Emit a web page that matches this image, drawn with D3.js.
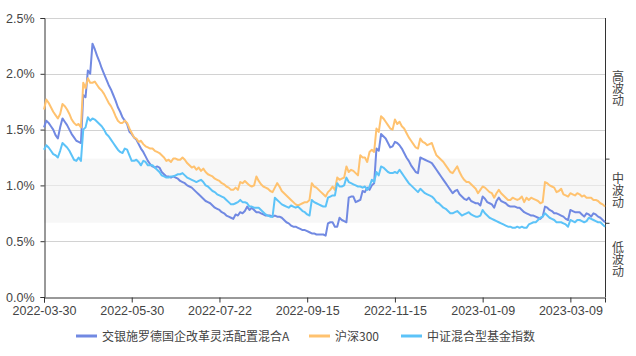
<!DOCTYPE html>
<html><head><meta charset="utf-8">
<script src="https://cdn.jsdelivr.net/npm/d3@7"></script>
<style>
html,body{margin:0;padding:0;background:#fff;}
svg text{font-family:"Noto Sans CJK SC","Noto Sans",sans-serif;}
</style></head>
<body><svg id="c" width="636" height="356"></svg>
<script>
const seriesNames = ["交银施罗德国企改革灵活配置混合A","沪深300","中证混合型基金指数"];
const seriesColors = ["#7189e2","#ffc26f","#5cc3f8"];
const yTicks = [0,0.5,1.0,1.5,2.0,2.5];
const xTickLabels = ["2022-03-30","2022-05-30","2022-07-22","2022-09-15","2022-11-15","2023-01-09","2023-03-09"];
const bandLevels = {high:1.24, low:0.665};
const zoneLabels = ["高波动","中波动","低波动"];
const holidays = ["2022-04-04","2022-04-05","2022-05-02","2022-05-03","2022-05-04","2022-06-03","2022-09-12",
 "2022-10-03","2022-10-04","2022-10-05","2022-10-06","2022-10-07","2023-01-02",
 "2023-01-23","2023-01-24","2023-01-25","2023-01-26","2023-01-27"];

const fund = [
1.52,1.58,1.56,1.53,1.50,1.45,1.42,1.52,1.60,1.57,
1.54,1.50,1.46,1.43,1.40,1.39,1.38,1.81,1.79,2.03,
2.00,2.27,2.22,2.16,2.11,2.05,2.00,1.95,1.90,1.86,
1.81,1.76,1.70,1.66,1.61,1.58,1.55,1.48,1.46,1.43,
1.41,1.37,1.33,1.30,1.26,1.22,1.19,1.17,1.16,1.17,
1.16,1.12,1.10,1.08,1.08,1.07,1.08,1.07,1.06,1.04,
1.03,1.02,1.00,0.99,0.98,0.96,0.94,0.92,0.90,0.88,
0.86,0.85,0.84,0.82,0.80,0.79,0.78,0.76,0.75,0.73,
0.72,0.71,0.70,0.74,0.73,0.76,0.75,0.77,0.81,0.78,
0.80,0.78,0.76,0.76,0.75,0.74,0.73,0.73,0.73,0.72,
0.73,0.72,0.72,0.71,0.69,0.67,0.66,0.64,0.63,0.63,
0.62,0.61,0.60,0.60,0.59,0.58,0.57,0.57,0.56,0.56,
0.56,0.56,0.55,0.66,0.67,0.67,0.63,0.63,0.71,0.69,
0.68,0.67,0.89,0.90,0.90,0.85,0.86,0.87,0.95,0.94,
0.98,0.96,1.00,1.02,1.33,1.31,1.46,1.44,1.42,1.38,
1.34,1.35,1.39,1.38,1.36,1.33,1.29,1.25,1.22,1.18,
1.15,1.12,1.11,1.25,1.24,1.23,1.22,1.21,1.20,1.17,
1.14,1.11,1.08,1.05,1.02,0.99,0.96,0.93,0.95,0.96,
0.92,0.90,0.88,0.87,0.89,0.86,0.85,0.84,0.84,0.82,
0.90,0.88,0.85,0.84,0.83,0.80,0.86,0.89,0.86,0.85,
0.84,0.82,0.81,0.81,0.81,0.80,0.80,0.78,0.76,0.75,
0.74,0.73,0.73,0.72,0.71,0.70,0.72,0.81,0.80,0.78,
0.77,0.75,0.75,0.74,0.73,0.72,0.70,0.69,0.78,0.77,
0.76,0.76,0.76,0.74,0.72,0.75,0.74,0.72,0.75,0.74,
0.72,0.71,0.69,0.67];

const hs300 = [
1.68,1.77,1.74,1.70,1.66,1.63,1.60,1.64,1.73,1.71,
1.68,1.64,1.59,1.56,1.54,1.55,1.52,1.92,1.87,1.96,
1.92,1.92,1.93,1.90,1.87,1.85,1.82,1.78,1.74,1.71,
1.67,1.62,1.58,1.56,1.56,1.58,1.56,1.51,1.47,1.43,
1.42,1.39,1.40,1.37,1.35,1.34,1.33,1.33,1.31,1.30,
1.29,1.27,1.25,1.22,1.23,1.21,1.24,1.24,1.23,1.23,
1.25,1.23,1.20,1.18,1.16,1.17,1.14,1.16,1.13,1.15,
1.12,1.10,1.09,1.08,1.06,1.05,1.04,1.02,1.01,0.99,
0.98,0.96,0.96,0.98,0.96,1.03,1.02,1.04,1.02,1.00,
0.99,1.00,1.08,1.04,1.01,0.99,0.98,0.97,0.95,0.94,
0.98,1.02,0.99,0.95,0.93,0.91,0.89,0.87,0.85,0.83,
0.82,0.83,0.84,0.85,0.85,0.87,1.02,0.99,0.98,0.96,
0.94,0.92,0.90,0.94,0.96,0.99,0.96,1.07,1.05,1.06,
1.07,1.17,1.12,1.14,1.13,1.11,1.09,1.27,1.25,1.25,
1.21,1.30,1.32,1.30,1.51,1.48,1.62,1.60,1.57,1.54,
1.51,1.50,1.59,1.55,1.57,1.53,1.51,1.47,1.43,1.40,
1.37,1.34,1.33,1.42,1.39,1.38,1.36,1.37,1.38,1.32,
1.27,1.25,1.23,1.21,1.18,1.15,1.12,1.11,1.14,1.17,
1.12,1.08,1.05,1.03,1.03,1.01,0.99,0.97,0.93,0.96,
0.99,0.98,0.96,0.94,0.93,0.89,0.93,0.96,0.93,0.91,
0.89,0.87,0.87,0.89,0.88,0.87,0.88,0.90,0.85,0.89,
0.87,0.89,0.88,0.87,0.86,0.84,0.85,1.03,1.02,1.00,
0.99,0.98,0.94,0.95,0.97,0.92,0.91,0.90,0.93,0.92,
0.91,0.93,0.92,0.90,0.91,0.89,0.89,0.89,0.87,0.87,
0.86,0.84,0.83,0.81];

const mixIndex = [
1.32,1.36,1.34,1.31,1.28,1.27,1.25,1.31,1.38,1.36,
1.34,1.31,1.27,1.23,1.22,1.25,1.22,1.50,1.52,1.61,
1.58,1.60,1.59,1.57,1.55,1.53,1.50,1.46,1.44,1.41,
1.38,1.35,1.32,1.30,1.29,1.33,1.32,1.27,1.22,1.22,
1.23,1.21,1.18,1.22,1.21,1.18,1.18,1.18,1.16,1.14,
1.12,1.09,1.08,1.07,1.07,1.08,1.08,1.09,1.10,1.10,
1.11,1.09,1.07,1.06,1.05,1.04,1.03,1.04,1.05,1.03,
1.00,0.99,0.97,0.95,0.94,0.92,0.91,0.90,0.89,0.87,
0.85,0.83,0.83,0.84,0.85,0.87,0.85,0.85,0.84,0.81,
0.81,0.80,0.80,0.80,0.78,0.76,0.74,0.73,0.72,0.72,
0.89,0.87,0.85,0.83,0.82,0.81,0.80,0.82,0.81,0.80,
0.81,0.79,0.77,0.76,0.74,0.73,0.87,0.85,0.84,0.83,
0.82,0.81,0.81,0.89,0.90,0.91,0.91,1.02,0.99,0.99,
1.00,1.07,1.03,1.02,1.01,1.00,0.99,0.99,0.98,0.99,
0.96,0.99,1.05,1.03,1.12,1.09,1.17,1.16,1.14,1.12,
1.11,1.11,1.12,1.11,1.14,1.11,1.08,1.05,1.02,1.00,
0.98,0.96,0.94,0.97,0.95,0.93,0.92,0.91,0.90,0.88,
0.85,0.84,0.82,0.80,0.79,0.77,0.75,0.75,0.76,0.77,
0.75,0.73,0.74,0.75,0.76,0.74,0.73,0.72,0.72,0.73,
0.78,0.75,0.73,0.71,0.70,0.69,0.68,0.67,0.66,0.65,
0.64,0.63,0.63,0.62,0.62,0.63,0.62,0.63,0.62,0.62,
0.65,0.66,0.67,0.67,0.69,0.71,0.72,0.75,0.73,0.71,
0.70,0.69,0.67,0.67,0.67,0.66,0.65,0.63,0.69,0.68,
0.67,0.69,0.69,0.68,0.67,0.68,0.71,0.70,0.69,0.68,
0.67,0.67,0.65,0.63];

// trading-day categories 2022-03-30 .. 2023-03-30
const fmt = d3.timeFormat("%Y-%m-%d");
const dates = [];
{
  const hol = new Set(holidays);
  for (let d = new Date(2022,2,30); d <= new Date(2023,2,30); d = d3.timeDay.offset(d,1)) {
    const wd = d.getDay(); const s = fmt(d);
    if (wd !== 0 && wd !== 6 && !hol.has(s)) dates.push(s);
  }
}
const allSeries = [fund, hs300, mixIndex];

const svg = d3.select("#c");
const L = 44, R = 605, T = 18, B = 297;
const x = d3.scalePoint().domain(dates).range([L, R]);
const y = d3.scaleLinear().domain([0, 2.5]).range([B, T]);
const numFont = "'Liberation Sans',Arial,sans-serif";

// gridlines
svg.append("g").selectAll("line").data(yTicks.filter(v => v > 0)).join("line")
  .attr("x1", L).attr("x2", R).attr("y1", d => Math.round(y(d)) + 0.5).attr("y2", d => Math.round(y(d)) + 0.5)
  .attr("stroke", "#d2d2d2").attr("stroke-width", 1);

// medium volatility band
svg.append("rect").attr("x", L).attr("width", R - L)
  .attr("y", y(bandLevels.high)).attr("height", y(bandLevels.low) - y(bandLevels.high))
  .attr("fill", "#f2f2f2").attr("fill-opacity", 0.6);

// left axis
const yAxis = svg.append("g").attr("transform", `translate(${L + 0.5},0)`)
  .call(d3.axisLeft(y).tickValues(yTicks).tickFormat(d => d.toFixed(1) + "%").tickSize(4).tickPadding(6));
yAxis.select(".domain").attr("stroke", "#333");
yAxis.selectAll(".tick line").attr("stroke", "#333");
yAxis.selectAll("text").attr("fill", "#444").style("font-size", "12.5px").style("font-family", numFont);

// bottom axis
const xAxis = svg.append("g").attr("transform", `translate(0,${B + 0.5})`)
  .call(d3.axisBottom(x).tickValues(xTickLabels).tickSize(5).tickPadding(4));
xAxis.select(".domain").attr("stroke", "#333");
xAxis.selectAll(".tick line").attr("stroke", "#333");
xAxis.selectAll("text").attr("fill", "#444").style("font-size", "12.5px").style("font-family", numFont);

// right axis with zone ticks
const yRight = svg.append("g").attr("transform", `translate(${R + 0.5},0)`)
  .call(d3.axisRight(y).tickValues([bandLevels.high, bandLevels.low]).tickFormat("").tickSize(4));
yRight.select(".domain").attr("stroke", "#333").attr("d", `M0,${T}V${B + 0.5}`);
yRight.selectAll(".tick line").attr("stroke", "#333");

// zone labels (vertical writing)
const zoneMid = [(2.5 + bandLevels.high) / 2, (bandLevels.high + bandLevels.low) / 2, bandLevels.low / 2];
svg.append("g").selectAll("text").data(zoneLabels).join("text")
  .attr("x", 618).attr("y", (d, k) => y(zoneMid[k]))
  .attr("text-anchor", "middle")
  .style("writing-mode", "vertical-rl").style("glyph-orientation-vertical", "0")
  .attr("fill", "#444").style("font-size", "12px")
  .text(d => d);

// lines
const line = d3.line().x((d, i) => x(dates[i])).y(d => y(d));
allSeries.forEach((s, k) => {
  svg.append("path").datum(s).attr("d", line).attr("fill", "none")
    .attr("stroke", seriesColors[k]).attr("stroke-width", 2).attr("stroke-linejoin", "round");
});

// legend
const legendX = [76, 309, 401];
const lg = svg.append("g");
seriesNames.forEach((name, k) => {
  lg.append("line").attr("x1", legendX[k]).attr("x2", legendX[k] + 21).attr("y1", 336).attr("y2", 336)
    .attr("stroke", seriesColors[k]).attr("stroke-width", 3);
  lg.append("text").attr("x", legendX[k] + 26).attr("y", 340.5).attr("fill", "#444")
    .style("font-size", "12px").text(name);
});
</script></body></html>
